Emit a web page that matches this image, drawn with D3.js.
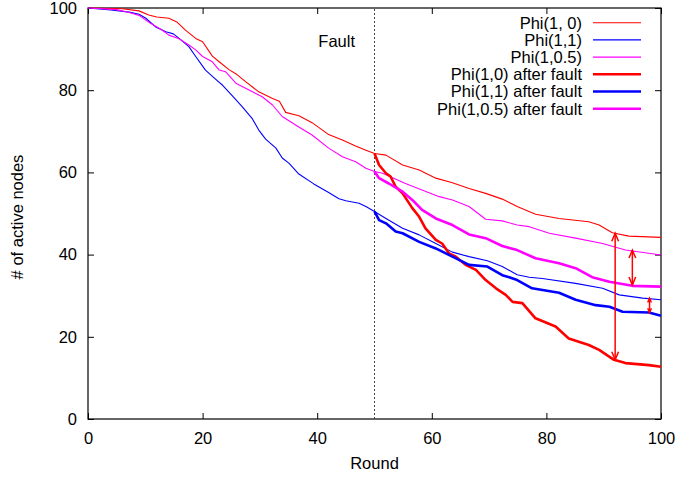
<!DOCTYPE html>
<html>
<head>
<meta charset="utf-8">
<script src="https://cdn.jsdelivr.net/npm/d3@7"></script>
<style>
  body { margin: 0; background: #fff; }
  svg text { font-family: "Liberation Sans", Arial, sans-serif; fill: #000; }
</style>
</head>
<body>
<div id="chart"></div>
<script>
// values: [round, # of active nodes]
const phi10 = [[0,100],[6,99.8],[8.9,99.3],[10.6,98.3],[12,97.8],[14.1,97.5],[15.5,96.6],[17,94.6],[18.8,92.6],[20,91.8],
  [21.7,88.3],[23,86.8],[24.6,85],[26,83.8],[27.5,82.1],[29.8,79.6],[32.2,78],[33.4,77.3],[34.5,74.6],[36.8,73.8],
  [39.1,72.1],[42,69.2],[44.4,67.9],[46.7,66.4],[48.5,65.4],[50,64.6],[52,64.2],[54.9,61.8],[57.8,60.6],[60.7,58.6],
  [63.6,57.5],[66.5,56.1],[69.4,54.9],[72.3,53.5],[74.9,51.7],[78.1,49.8],[82.2,48.8],[87.4,48],[89.2,47.2],
  [91.5,45.3],[94.4,44.5],[100,44.2]];
const phi11 = [[0,100],[4,99.5],[7.2,99],[8.9,98.5],[10.1,97.5],[11.8,95.4],[13.6,94.2],[14.9,93.7],[15.9,92.6],
  [17.6,90.6],[18.8,88.2],[20.5,84.9],[22.5,82.4],[23.5,81.2],[25.2,78.6],[26.9,76],[28.7,73],[29.8,70.3],[31,68.1],
  [32.8,65.9],[33.9,63.5],[35.1,62.2],[36.8,59.6],[39.4,57.2],[42,55.1],[43.8,53.6],[45,53.1],[47.3,52.5],[48.5,51.7],
  [50,50.5],[52,48.8],[54.9,46.4],[57.8,44.8],[60.7,42.7],[63.6,40.6],[66.5,39.5],[69.7,38.5],[72.3,37.1],[74.9,35.1],
  [77,34.5],[79.3,34.2],[85.1,33],[89.8,31.8],[92.7,30.2],[96.8,29.4],[100,29]];
const phi105 = [[0,100],[5,99.6],[7.2,98.9],[8.9,98.2],[10.9,96.3],[13,94.6],[14.1,93.4],[15.9,92.5],[17.6,91],
  [18.8,89.8],[20,88.2],[21.7,86.9],[22.9,84.9],[24,84.5],[25.8,81.7],[28.7,79.6],[30.4,78.4],[32.2,76.4],[33.9,73.6],
  [36.5,71.3],[39.1,69.1],[42,65.9],[44.4,63.8],[46.7,62.6],[48.5,61],[50,60.2],[51.4,59.8],[55.4,57.3],[58.3,55.7],
  [61.3,54.1],[63.6,53.3],[66.5,51.7],[69.4,48.6],[72.3,48.2],[74.9,47.2],[77,46.8],[80.5,45.2],[85.1,44],
  [89.8,42.7],[93.8,41.1],[100,39.9]];
const phi10Fault = [[50,64.6],[50.8,61.8],[52,59.8],[52.8,59],[53.7,56.5],[54.9,54.9],[56.6,51.3],[57.8,49.2],
  [58.9,46.4],[60.7,43.6],[61.8,42.7],[63,40.3],[64.2,39.5],[65.9,37.5],[67.7,36.3],[69.4,33.8],[71.2,31.8],
  [72.9,30.2],[74.1,28.5],[75.8,28.2],[78.1,24.5],[81.6,22.5],[83.9,19.6],[87.4,18],[89.2,16.8],[91.8,14.4],
  [93.8,13.6],[97.9,13.1],[100,12.7]];
const phi11Fault = [[50,50.5],[50.8,48.4],[52,47.6],[53.7,45.6],[54.9,45.2],[57.8,43.1],[60.7,41.5],[63.6,39.5],
  [66.5,37.5],[69.7,37.1],[72.3,35],[73.5,34.5],[74.9,33.8],[77.5,31.8],[82.2,30.7],[85.1,29],[88.6,27.7],[91,27.3],
  [93.3,26.1],[97.9,25.9],[100,25.1]];
const phi105Fault = [[50,60.2],[50.8,58.6],[52.5,57.3],[54.9,55.3],[56.6,53.3],[58.3,50.9],[60.7,48.8],[63.6,47.2],
  [66.5,44.9],[69.4,44],[72.3,42.1],[74.9,41.1],[78.1,39.1],[82.2,37.9],[85.1,36.7],[88,34.5],[91,33.4],[95,32.4],
  [100,32.2]];

const seriesNames = ["Phi(1, 0)", "Phi(1,1)", "Phi(1,0.5)", "Phi(1,0) after fault", "Phi(1,1) after fault", "Phi(1,0.5) after fault"];
const seriesData = [phi10, phi11, phi105, phi10Fault, phi11Fault, phi105Fault];
const seriesColors = ["#ff0000", "#0000ff", "#ff00ff", "#ff0000", "#0000ff", "#ff00ff"];
const seriesThick = [false, false, false, true, true, true];

// gap arrows: round, from, to
const arrows = [[92, 45.2, 14.4], [95, 41.1, 32.6], [98, 29.4, 25.9]];
const faultRound = 50;
const xTicks = [0, 20, 40, 60, 80, 100];
const yTicks = [0, 20, 40, 60, 80, 100];

const width = 679, height = 478;
const margin = { top: 8, right: 18, bottom: 59, left: 88 };
const svg = d3.select("#chart").append("svg").attr("width", width).attr("height", height);

const x = d3.scaleLinear().domain([0, 100]).range([margin.left, width - margin.right]);
const y = d3.scaleLinear().domain([0, 100]).range([height - margin.bottom, margin.top]);
const fs = "16.5px";

// axes with inward ticks, mirrored on top/right
function styleAxis(g) {
  g.select(".domain").remove();
  g.selectAll("line").attr("stroke", "#000");
  g.selectAll("text").style("font-size", fs).attr("fill", "#000");
}
svg.append("g").attr("transform", `translate(0,${y(0)})`)
  .call(d3.axisBottom(x).tickValues(xTicks).tickSize(-6).tickPadding(13)).call(styleAxis);
svg.append("g").attr("transform", `translate(0,${y(100)})`)
  .call(d3.axisTop(x).tickValues(xTicks).tickSize(-6).tickFormat("")).call(styleAxis);
svg.append("g").attr("transform", `translate(${x(0)},0)`)
  .call(d3.axisLeft(y).tickValues(yTicks).tickSize(-6).tickPadding(11)).call(styleAxis);
svg.append("g").attr("transform", `translate(${x(100)},0)`)
  .call(d3.axisRight(y).tickValues(yTicks).tickSize(-6).tickFormat("")).call(styleAxis);

svg.append("rect")
  .attr("x", x(0)).attr("y", y(100))
  .attr("width", x(100) - x(0)).attr("height", y(0) - y(100))
  .attr("fill", "none").attr("stroke", "#000").attr("stroke-width", 1.2);

// fault marker
svg.append("line")
  .attr("x1", x(faultRound)).attr("x2", x(faultRound))
  .attr("y1", y(0)).attr("y2", y(100))
  .attr("stroke", "#444").attr("stroke-width", 1).attr("stroke-dasharray", "2,2");
svg.append("text").attr("x", x(43.4)).attr("y", y(90.5))
  .attr("text-anchor", "middle").style("font-size", fs).text("Fault");

const line = d3.line().x(d => x(d[0])).y(d => y(d[1]));
seriesData.forEach((data, i) => {
  svg.append("path").datum(data)
    .attr("fill", "none")
    .attr("stroke", seriesColors[i])
    .attr("stroke-width", seriesThick[i] ? 2.6 : 1.1)
    .attr("stroke-linejoin", "round")
    .attr("d", line);
});

// double-headed arrows
arrows.forEach(a => {
  const px = x(a[0]), pTop = y(a[1]), pBot = y(a[2]);
  const len = pBot - pTop;
  const hl = Math.min(8, len * 0.3), hw = hl * 0.42;
  const g = svg.append("g").attr("stroke", "#ff0000").attr("stroke-width", 1.5).attr("fill", "none");
  g.append("line").attr("x1", px).attr("x2", px).attr("y1", pTop).attr("y2", pBot);
  g.append("path").attr("d", `M${px - hw},${pTop + hl}L${px},${pTop}L${px + hw},${pTop + hl}`);
  g.append("path").attr("d", `M${px - hw},${pBot - hl}L${px},${pBot}L${px + hw},${pBot - hl}`);
});

// legend
const legend = svg.append("g");
seriesNames.forEach((name, i) => {
  const ly = 22.7 + i * 17.2;
  legend.append("text").attr("x", 582).attr("y", ly).attr("dy", "0.36em")
    .attr("text-anchor", "end").style("font-size", fs).text(name);
  legend.append("line").attr("x1", 593).attr("x2", 641).attr("y1", ly).attr("y2", ly)
    .attr("stroke", seriesColors[i]).attr("stroke-width", seriesThick[i] ? 2.6 : 1.1);
});

// axis titles
svg.append("text").attr("x", x(50)).attr("y", 469)
  .attr("text-anchor", "middle").style("font-size", fs).text("Round");
svg.append("text").attr("transform", "translate(23,217) rotate(-90)")
  .attr("text-anchor", "middle").style("font-size", fs).text("# of active nodes");
</script>
</body>
</html>
